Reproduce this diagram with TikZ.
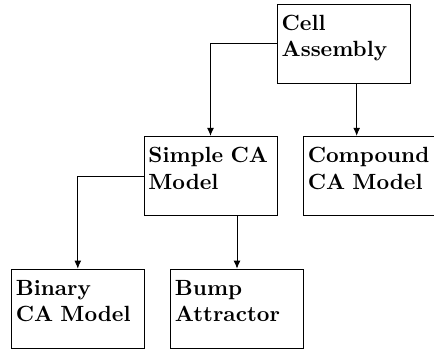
\documentclass[tikz,border=0pt]{standalone}
\usepackage{tikz}
\usetikzlibrary{arrows.meta}

\begin{document}
\begin{tikzpicture}[x=0.4545pt, y=-0.4545pt, >={Latex[length=3.6pt, width=3.1pt]},
    box/.style={draw, rectangle, font=\bfseries, align=left,
      text width=56.4pt, inner xsep=2pt, inner ysep=0pt,
      text height=12pt, text depth=24.1pt}]

  \useasboundingbox (0,0) rectangle (434,352);

  \node[box] (cell)     at (343.7, 43.7) {Cell\\Assembly};
  \node[box] (simple)   at (210.5, 176)  {Simple CA\\Model};
  \node[box] (compound) at (369.8, 176)  {Compound\\CA Model};
  \node[box] (binary)   at (77.8, 308.8) {Binary\\CA Model};
  \node[box] (bump)     at (237, 308.8)  {Bump\\Attractor};

  \draw[->] (cell.west) -| (simple.north); %% cell->simple
  \draw[->] ([xshift=5.9pt]cell.south) -- ([xshift=5.9pt]cell.south |- compound.north); %% cell->compound
  \draw[->] (simple.west) -| (binary.north); %% simple->binary
  \draw[->] (simple.south -| bump.north) -- (bump.north); %% simple->bump
\end{tikzpicture}
\end{document}
